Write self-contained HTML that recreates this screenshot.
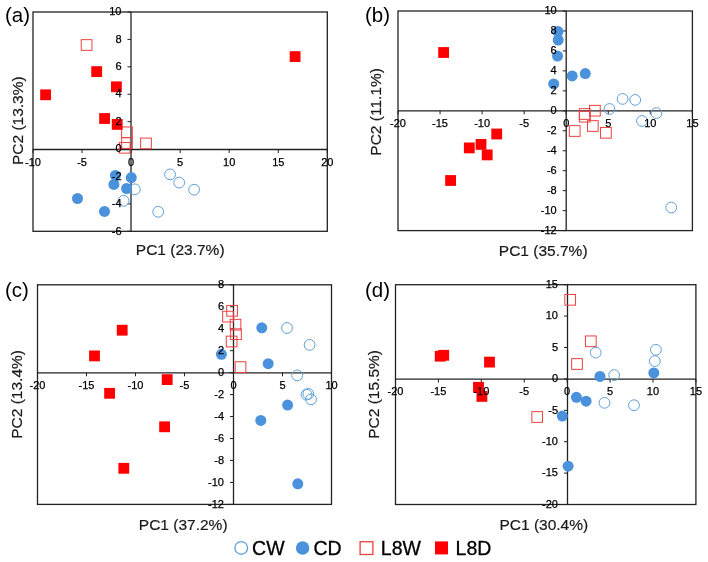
<!DOCTYPE html>
<html><head><meta charset="utf-8"><style>
html,body{margin:0;padding:0;background:#fff;}
svg{display:block;will-change:transform;}
text{font-family:"Liberation Sans", sans-serif;fill:#000;}
.t{font-size:11px;stroke:#000;stroke-width:0.25px;}
.ti{font-size:15.5px;fill:#1a1a1a;stroke:#1a1a1a;stroke-width:0.2px;}
.lab{font-size:20.5px;}
.lg{font-size:19.5px;stroke:#000;stroke-width:0.3px;}
</style></head><body>
<svg width="708" height="562" viewBox="0 0 708 562">
<rect width="708" height="562" fill="#fff"/>
<rect x="33" y="12" width="294.3" height="219.3" fill="none" stroke="#222" stroke-width="1.3"/>
<line x1="33" y1="149.5" x2="327.3" y2="149.5" stroke="#222" stroke-width="1.3"/>
<line x1="131" y1="12" x2="131" y2="231.3" stroke="#222" stroke-width="1.3"/>
<line x1="33" y1="149.5" x2="33" y2="153" stroke="#222" stroke-width="1"/>
<line x1="82.05" y1="149.5" x2="82.05" y2="153" stroke="#222" stroke-width="1"/>
<line x1="131.1" y1="149.5" x2="131.1" y2="153" stroke="#222" stroke-width="1"/>
<line x1="180.15" y1="149.5" x2="180.15" y2="153" stroke="#222" stroke-width="1"/>
<line x1="229.2" y1="149.5" x2="229.2" y2="153" stroke="#222" stroke-width="1"/>
<line x1="278.25" y1="149.5" x2="278.25" y2="153" stroke="#222" stroke-width="1"/>
<line x1="327.3" y1="149.5" x2="327.3" y2="153" stroke="#222" stroke-width="1"/>
<line x1="127.5" y1="231.3" x2="131" y2="231.3" stroke="#222" stroke-width="1"/>
<line x1="127.5" y1="203.89" x2="131" y2="203.89" stroke="#222" stroke-width="1"/>
<line x1="127.5" y1="176.48" x2="131" y2="176.48" stroke="#222" stroke-width="1"/>
<line x1="127.5" y1="149.06" x2="131" y2="149.06" stroke="#222" stroke-width="1"/>
<line x1="127.5" y1="121.65" x2="131" y2="121.65" stroke="#222" stroke-width="1"/>
<line x1="127.5" y1="94.24" x2="131" y2="94.24" stroke="#222" stroke-width="1"/>
<line x1="127.5" y1="66.83" x2="131" y2="66.83" stroke="#222" stroke-width="1"/>
<line x1="127.5" y1="39.41" x2="131" y2="39.41" stroke="#222" stroke-width="1"/>
<line x1="127.5" y1="12" x2="131" y2="12" stroke="#222" stroke-width="1"/>
<circle cx="170.1" cy="174.4" r="5.4" fill="none" stroke="#5fa0dc" stroke-width="1"/>
<circle cx="179.2" cy="182.6" r="5.4" fill="none" stroke="#5fa0dc" stroke-width="1"/>
<circle cx="194.1" cy="189.7" r="5.4" fill="none" stroke="#5fa0dc" stroke-width="1"/>
<circle cx="134.8" cy="189.3" r="5.4" fill="none" stroke="#5fa0dc" stroke-width="1"/>
<circle cx="123.6" cy="200.8" r="5.4" fill="none" stroke="#5fa0dc" stroke-width="1"/>
<circle cx="158.2" cy="211.8" r="5.4" fill="none" stroke="#5fa0dc" stroke-width="1"/>
<circle cx="115.4" cy="175.5" r="5.5" fill="#4b92dc"/>
<circle cx="131.3" cy="177.6" r="5.5" fill="#4b92dc"/>
<circle cx="113.9" cy="184.4" r="5.5" fill="#4b92dc"/>
<circle cx="126.6" cy="188.5" r="5.5" fill="#4b92dc"/>
<circle cx="77.5" cy="198.5" r="5.5" fill="#4b92dc"/>
<circle cx="104.5" cy="211.4" r="5.5" fill="#4b92dc"/>
<rect x="81.25" y="39.65" width="10.7" height="10.7" fill="none" stroke="#ee4040" stroke-width="1"/>
<rect x="121.65" y="126.95" width="10.7" height="10.7" fill="none" stroke="#ee4040" stroke-width="1"/>
<rect x="121.65" y="137.65" width="10.7" height="10.7" fill="none" stroke="#ee4040" stroke-width="1"/>
<rect x="119.35" y="142.45" width="10.7" height="10.7" fill="none" stroke="#ee4040" stroke-width="1"/>
<rect x="140.65" y="138.05" width="10.7" height="10.7" fill="none" stroke="#ee4040" stroke-width="1"/>
<rect x="91.3" y="66.2" width="10.8" height="10.8" fill="#ff0000"/>
<rect x="111" y="81.4" width="10.8" height="10.8" fill="#ff0000"/>
<rect x="40.2" y="89.4" width="10.8" height="10.8" fill="#ff0000"/>
<rect x="99.2" y="113.1" width="10.8" height="10.8" fill="#ff0000"/>
<rect x="111.8" y="119" width="10.8" height="10.8" fill="#ff0000"/>
<rect x="289.7" y="51.2" width="10.8" height="10.8" fill="#ff0000"/>
<text x="33" y="165.8" text-anchor="middle" class="t">-10</text>
<text x="82.05" y="165.8" text-anchor="middle" class="t">-5</text>
<text x="131.1" y="165.8" text-anchor="middle" class="t">0</text>
<text x="180.15" y="165.8" text-anchor="middle" class="t">5</text>
<text x="229.2" y="165.8" text-anchor="middle" class="t">10</text>
<text x="278.25" y="165.8" text-anchor="middle" class="t">15</text>
<text x="327.3" y="165.8" text-anchor="middle" class="t">20</text>
<text x="121.5" y="234.5" text-anchor="end" class="t">-6</text>
<text x="121.5" y="207.09" text-anchor="end" class="t">-4</text>
<text x="121.5" y="179.68" text-anchor="end" class="t">-2</text>
<text x="121.5" y="152.26" text-anchor="end" class="t">0</text>
<text x="121.5" y="124.85" text-anchor="end" class="t">2</text>
<text x="121.5" y="97.44" text-anchor="end" class="t">4</text>
<text x="121.5" y="70.03" text-anchor="end" class="t">6</text>
<text x="121.5" y="42.61" text-anchor="end" class="t">8</text>
<text x="121.5" y="15.2" text-anchor="end" class="t">10</text>
<text x="5" y="21.8" class="lab">(a)</text>
<text x="180.2" y="254.9" text-anchor="middle" class="ti">PC1 (23.7%)</text>
<text transform="translate(22.8,120.7) rotate(-90)" text-anchor="middle" class="ti">PC2 (13.3%)</text>
<rect x="398" y="11" width="294.4" height="219.6" fill="none" stroke="#222" stroke-width="1.3"/>
<line x1="398" y1="110.8" x2="692.4" y2="110.8" stroke="#222" stroke-width="1.3"/>
<line x1="566.2" y1="11" x2="566.2" y2="230.6" stroke="#222" stroke-width="1.3"/>
<line x1="398" y1="110.8" x2="398" y2="114.3" stroke="#222" stroke-width="1"/>
<line x1="440.06" y1="110.8" x2="440.06" y2="114.3" stroke="#222" stroke-width="1"/>
<line x1="482.11" y1="110.8" x2="482.11" y2="114.3" stroke="#222" stroke-width="1"/>
<line x1="524.17" y1="110.8" x2="524.17" y2="114.3" stroke="#222" stroke-width="1"/>
<line x1="566.23" y1="110.8" x2="566.23" y2="114.3" stroke="#222" stroke-width="1"/>
<line x1="608.29" y1="110.8" x2="608.29" y2="114.3" stroke="#222" stroke-width="1"/>
<line x1="650.34" y1="110.8" x2="650.34" y2="114.3" stroke="#222" stroke-width="1"/>
<line x1="692.4" y1="110.8" x2="692.4" y2="114.3" stroke="#222" stroke-width="1"/>
<line x1="562.7" y1="230.6" x2="566.2" y2="230.6" stroke="#222" stroke-width="1"/>
<line x1="562.7" y1="210.64" x2="566.2" y2="210.64" stroke="#222" stroke-width="1"/>
<line x1="562.7" y1="190.67" x2="566.2" y2="190.67" stroke="#222" stroke-width="1"/>
<line x1="562.7" y1="170.71" x2="566.2" y2="170.71" stroke="#222" stroke-width="1"/>
<line x1="562.7" y1="150.75" x2="566.2" y2="150.75" stroke="#222" stroke-width="1"/>
<line x1="562.7" y1="130.78" x2="566.2" y2="130.78" stroke="#222" stroke-width="1"/>
<line x1="562.7" y1="110.82" x2="566.2" y2="110.82" stroke="#222" stroke-width="1"/>
<line x1="562.7" y1="90.85" x2="566.2" y2="90.85" stroke="#222" stroke-width="1"/>
<line x1="562.7" y1="70.89" x2="566.2" y2="70.89" stroke="#222" stroke-width="1"/>
<line x1="562.7" y1="50.93" x2="566.2" y2="50.93" stroke="#222" stroke-width="1"/>
<line x1="562.7" y1="30.96" x2="566.2" y2="30.96" stroke="#222" stroke-width="1"/>
<line x1="562.7" y1="11" x2="566.2" y2="11" stroke="#222" stroke-width="1"/>
<circle cx="609.4" cy="109" r="5.4" fill="none" stroke="#5fa0dc" stroke-width="1"/>
<circle cx="622.6" cy="98.9" r="5.4" fill="none" stroke="#5fa0dc" stroke-width="1"/>
<circle cx="635.2" cy="99.9" r="5.4" fill="none" stroke="#5fa0dc" stroke-width="1"/>
<circle cx="656.4" cy="113.1" r="5.4" fill="none" stroke="#5fa0dc" stroke-width="1"/>
<circle cx="642" cy="121" r="5.4" fill="none" stroke="#5fa0dc" stroke-width="1"/>
<circle cx="671.2" cy="207.5" r="5.4" fill="none" stroke="#5fa0dc" stroke-width="1"/>
<circle cx="557.9" cy="31.5" r="5.5" fill="#4b92dc"/>
<circle cx="558.2" cy="40.1" r="5.5" fill="#4b92dc"/>
<circle cx="557.5" cy="56.1" r="5.5" fill="#4b92dc"/>
<circle cx="572.2" cy="75.9" r="5.5" fill="#4b92dc"/>
<circle cx="585.3" cy="73.6" r="5.5" fill="#4b92dc"/>
<circle cx="553.7" cy="83.9" r="5.5" fill="#4b92dc"/>
<rect x="589.55" y="105.35" width="10.7" height="10.7" fill="none" stroke="#ee4040" stroke-width="1"/>
<rect x="579.35" y="108.65" width="10.7" height="10.7" fill="none" stroke="#ee4040" stroke-width="1"/>
<rect x="579.35" y="111.35" width="10.7" height="10.7" fill="none" stroke="#ee4040" stroke-width="1"/>
<rect x="587.45" y="120.65" width="10.7" height="10.7" fill="none" stroke="#ee4040" stroke-width="1"/>
<rect x="569.35" y="125.65" width="10.7" height="10.7" fill="none" stroke="#ee4040" stroke-width="1"/>
<rect x="600.55" y="127.45" width="10.7" height="10.7" fill="none" stroke="#ee4040" stroke-width="1"/>
<rect x="438.2" y="47.1" width="10.8" height="10.8" fill="#ff0000"/>
<rect x="491.3" y="128.6" width="10.8" height="10.8" fill="#ff0000"/>
<rect x="475.6" y="139" width="10.8" height="10.8" fill="#ff0000"/>
<rect x="463.9" y="142.5" width="10.8" height="10.8" fill="#ff0000"/>
<rect x="481.8" y="149.5" width="10.8" height="10.8" fill="#ff0000"/>
<rect x="445.2" y="175.1" width="10.8" height="10.8" fill="#ff0000"/>
<text x="398" y="127.1" text-anchor="middle" class="t">-20</text>
<text x="440.06" y="127.1" text-anchor="middle" class="t">-15</text>
<text x="482.11" y="127.1" text-anchor="middle" class="t">-10</text>
<text x="524.17" y="127.1" text-anchor="middle" class="t">-5</text>
<text x="566.23" y="127.1" text-anchor="middle" class="t">0</text>
<text x="608.29" y="127.1" text-anchor="middle" class="t">5</text>
<text x="650.34" y="127.1" text-anchor="middle" class="t">10</text>
<text x="692.4" y="127.1" text-anchor="middle" class="t">15</text>
<text x="556.7" y="233.8" text-anchor="end" class="t">-12</text>
<text x="556.7" y="213.84" text-anchor="end" class="t">-10</text>
<text x="556.7" y="193.87" text-anchor="end" class="t">-8</text>
<text x="556.7" y="173.91" text-anchor="end" class="t">-6</text>
<text x="556.7" y="153.95" text-anchor="end" class="t">-4</text>
<text x="556.7" y="133.98" text-anchor="end" class="t">-2</text>
<text x="556.7" y="114.02" text-anchor="end" class="t">0</text>
<text x="556.7" y="94.05" text-anchor="end" class="t">2</text>
<text x="556.7" y="74.09" text-anchor="end" class="t">4</text>
<text x="556.7" y="54.13" text-anchor="end" class="t">6</text>
<text x="556.7" y="34.16" text-anchor="end" class="t">8</text>
<text x="556.7" y="14.2" text-anchor="end" class="t">10</text>
<text x="365" y="21.8" class="lab">(b)</text>
<text x="543.2" y="255.6" text-anchor="middle" class="ti">PC1 (35.7%)</text>
<text transform="translate(380.6,111.9) rotate(-90)" text-anchor="middle" class="ti">PC2 (11.1%)</text>
<rect x="37.5" y="284.8" width="294" height="219.6" fill="none" stroke="#222" stroke-width="1.3"/>
<line x1="37.5" y1="372.8" x2="331.5" y2="372.8" stroke="#222" stroke-width="1.3"/>
<line x1="233.5" y1="284.8" x2="233.5" y2="504.4" stroke="#222" stroke-width="1.3"/>
<line x1="37.5" y1="372.8" x2="37.5" y2="376.3" stroke="#222" stroke-width="1"/>
<line x1="86.5" y1="372.8" x2="86.5" y2="376.3" stroke="#222" stroke-width="1"/>
<line x1="135.5" y1="372.8" x2="135.5" y2="376.3" stroke="#222" stroke-width="1"/>
<line x1="184.5" y1="372.8" x2="184.5" y2="376.3" stroke="#222" stroke-width="1"/>
<line x1="233.5" y1="372.8" x2="233.5" y2="376.3" stroke="#222" stroke-width="1"/>
<line x1="282.5" y1="372.8" x2="282.5" y2="376.3" stroke="#222" stroke-width="1"/>
<line x1="331.5" y1="372.8" x2="331.5" y2="376.3" stroke="#222" stroke-width="1"/>
<line x1="230" y1="504.4" x2="233.5" y2="504.4" stroke="#222" stroke-width="1"/>
<line x1="230" y1="482.44" x2="233.5" y2="482.44" stroke="#222" stroke-width="1"/>
<line x1="230" y1="460.48" x2="233.5" y2="460.48" stroke="#222" stroke-width="1"/>
<line x1="230" y1="438.52" x2="233.5" y2="438.52" stroke="#222" stroke-width="1"/>
<line x1="230" y1="416.56" x2="233.5" y2="416.56" stroke="#222" stroke-width="1"/>
<line x1="230" y1="394.6" x2="233.5" y2="394.6" stroke="#222" stroke-width="1"/>
<line x1="230" y1="372.64" x2="233.5" y2="372.64" stroke="#222" stroke-width="1"/>
<line x1="230" y1="350.68" x2="233.5" y2="350.68" stroke="#222" stroke-width="1"/>
<line x1="230" y1="328.72" x2="233.5" y2="328.72" stroke="#222" stroke-width="1"/>
<line x1="230" y1="306.76" x2="233.5" y2="306.76" stroke="#222" stroke-width="1"/>
<line x1="230" y1="284.8" x2="233.5" y2="284.8" stroke="#222" stroke-width="1"/>
<circle cx="287" cy="328" r="5.4" fill="none" stroke="#5fa0dc" stroke-width="1"/>
<circle cx="309.6" cy="344.9" r="5.4" fill="none" stroke="#5fa0dc" stroke-width="1"/>
<circle cx="297.2" cy="375.4" r="5.4" fill="none" stroke="#5fa0dc" stroke-width="1"/>
<circle cx="306.5" cy="394.6" r="5.4" fill="none" stroke="#5fa0dc" stroke-width="1"/>
<circle cx="308.3" cy="393.9" r="5.4" fill="none" stroke="#5fa0dc" stroke-width="1"/>
<circle cx="311" cy="399.3" r="5.4" fill="none" stroke="#5fa0dc" stroke-width="1"/>
<circle cx="221.4" cy="354.3" r="5.5" fill="#4b92dc"/>
<circle cx="261.8" cy="327.8" r="5.5" fill="#4b92dc"/>
<circle cx="268.2" cy="363.7" r="5.5" fill="#4b92dc"/>
<circle cx="287.6" cy="405.1" r="5.5" fill="#4b92dc"/>
<circle cx="260.8" cy="420.4" r="5.5" fill="#4b92dc"/>
<circle cx="297.8" cy="483.8" r="5.5" fill="#4b92dc"/>
<rect x="226.75" y="305.45" width="10.7" height="10.7" fill="none" stroke="#ee4040" stroke-width="1"/>
<rect x="222.65" y="311.25" width="10.7" height="10.7" fill="none" stroke="#ee4040" stroke-width="1"/>
<rect x="230.15" y="319.35" width="10.7" height="10.7" fill="none" stroke="#ee4040" stroke-width="1"/>
<rect x="230.65" y="328.85" width="10.7" height="10.7" fill="none" stroke="#ee4040" stroke-width="1"/>
<rect x="226.25" y="336.15" width="10.7" height="10.7" fill="none" stroke="#ee4040" stroke-width="1"/>
<rect x="235.15" y="361.75" width="10.7" height="10.7" fill="none" stroke="#ee4040" stroke-width="1"/>
<rect x="116.8" y="324.8" width="10.8" height="10.8" fill="#ff0000"/>
<rect x="89.1" y="350.5" width="10.8" height="10.8" fill="#ff0000"/>
<rect x="161.8" y="374.2" width="10.8" height="10.8" fill="#ff0000"/>
<rect x="104.2" y="387.9" width="10.8" height="10.8" fill="#ff0000"/>
<rect x="159.2" y="421.4" width="10.8" height="10.8" fill="#ff0000"/>
<rect x="118.4" y="462.9" width="10.8" height="10.8" fill="#ff0000"/>
<text x="37.5" y="389.1" text-anchor="middle" class="t">-20</text>
<text x="86.5" y="389.1" text-anchor="middle" class="t">-15</text>
<text x="135.5" y="389.1" text-anchor="middle" class="t">-10</text>
<text x="184.5" y="389.1" text-anchor="middle" class="t">-5</text>
<text x="233.5" y="389.1" text-anchor="middle" class="t">0</text>
<text x="282.5" y="389.1" text-anchor="middle" class="t">5</text>
<text x="331.5" y="389.1" text-anchor="middle" class="t">10</text>
<text x="224" y="507.6" text-anchor="end" class="t">-12</text>
<text x="224" y="485.64" text-anchor="end" class="t">-10</text>
<text x="224" y="463.68" text-anchor="end" class="t">-8</text>
<text x="224" y="441.72" text-anchor="end" class="t">-6</text>
<text x="224" y="419.76" text-anchor="end" class="t">-4</text>
<text x="224" y="397.8" text-anchor="end" class="t">-2</text>
<text x="224" y="375.84" text-anchor="end" class="t">0</text>
<text x="224" y="353.88" text-anchor="end" class="t">2</text>
<text x="224" y="331.92" text-anchor="end" class="t">4</text>
<text x="224" y="309.96" text-anchor="end" class="t">6</text>
<text x="224" y="288" text-anchor="end" class="t">8</text>
<text x="5" y="297" class="lab">(c)</text>
<text x="183.2" y="529.7" text-anchor="middle" class="ti">PC1 (37.2%)</text>
<text transform="translate(22.4,394.4) rotate(-90)" text-anchor="middle" class="ti">PC2 (13.4%)</text>
<rect x="395.5" y="284.7" width="300.4" height="219.8" fill="none" stroke="#222" stroke-width="1.3"/>
<line x1="395.5" y1="379.1" x2="695.9" y2="379.1" stroke="#222" stroke-width="1.3"/>
<line x1="567.5" y1="284.7" x2="567.5" y2="504.5" stroke="#222" stroke-width="1.3"/>
<line x1="395.5" y1="379.1" x2="395.5" y2="382.6" stroke="#222" stroke-width="1"/>
<line x1="438.41" y1="379.1" x2="438.41" y2="382.6" stroke="#222" stroke-width="1"/>
<line x1="481.33" y1="379.1" x2="481.33" y2="382.6" stroke="#222" stroke-width="1"/>
<line x1="524.24" y1="379.1" x2="524.24" y2="382.6" stroke="#222" stroke-width="1"/>
<line x1="567.16" y1="379.1" x2="567.16" y2="382.6" stroke="#222" stroke-width="1"/>
<line x1="610.07" y1="379.1" x2="610.07" y2="382.6" stroke="#222" stroke-width="1"/>
<line x1="652.99" y1="379.1" x2="652.99" y2="382.6" stroke="#222" stroke-width="1"/>
<line x1="695.9" y1="379.1" x2="695.9" y2="382.6" stroke="#222" stroke-width="1"/>
<line x1="564" y1="504.5" x2="567.5" y2="504.5" stroke="#222" stroke-width="1"/>
<line x1="564" y1="473.1" x2="567.5" y2="473.1" stroke="#222" stroke-width="1"/>
<line x1="564" y1="441.7" x2="567.5" y2="441.7" stroke="#222" stroke-width="1"/>
<line x1="564" y1="410.3" x2="567.5" y2="410.3" stroke="#222" stroke-width="1"/>
<line x1="564" y1="378.9" x2="567.5" y2="378.9" stroke="#222" stroke-width="1"/>
<line x1="564" y1="347.5" x2="567.5" y2="347.5" stroke="#222" stroke-width="1"/>
<line x1="564" y1="316.1" x2="567.5" y2="316.1" stroke="#222" stroke-width="1"/>
<line x1="564" y1="284.7" x2="567.5" y2="284.7" stroke="#222" stroke-width="1"/>
<circle cx="595.7" cy="352.6" r="5.4" fill="none" stroke="#5fa0dc" stroke-width="1"/>
<circle cx="614.2" cy="375.1" r="5.4" fill="none" stroke="#5fa0dc" stroke-width="1"/>
<circle cx="604.5" cy="402.8" r="5.4" fill="none" stroke="#5fa0dc" stroke-width="1"/>
<circle cx="655.9" cy="349.8" r="5.4" fill="none" stroke="#5fa0dc" stroke-width="1"/>
<circle cx="654.8" cy="361.1" r="5.4" fill="none" stroke="#5fa0dc" stroke-width="1"/>
<circle cx="634" cy="405.2" r="5.4" fill="none" stroke="#5fa0dc" stroke-width="1"/>
<circle cx="600" cy="376.4" r="5.5" fill="#4b92dc"/>
<circle cx="576.4" cy="397.3" r="5.5" fill="#4b92dc"/>
<circle cx="586.1" cy="401.2" r="5.5" fill="#4b92dc"/>
<circle cx="562.3" cy="416.1" r="5.5" fill="#4b92dc"/>
<circle cx="568.1" cy="466.2" r="5.5" fill="#4b92dc"/>
<circle cx="653.8" cy="372.9" r="5.5" fill="#4b92dc"/>
<rect x="564.85" y="294.45" width="10.7" height="10.7" fill="none" stroke="#ee4040" stroke-width="1"/>
<rect x="585.45" y="335.95" width="10.7" height="10.7" fill="none" stroke="#ee4040" stroke-width="1"/>
<rect x="571.65" y="358.65" width="10.7" height="10.7" fill="none" stroke="#ee4040" stroke-width="1"/>
<rect x="531.85" y="411.65" width="10.7" height="10.7" fill="none" stroke="#ee4040" stroke-width="1"/>
<rect x="434.8" y="350.8" width="10.8" height="10.8" fill="#ff0000"/>
<rect x="438.3" y="349.9" width="10.8" height="10.8" fill="#ff0000"/>
<rect x="484.1" y="356.7" width="10.8" height="10.8" fill="#ff0000"/>
<rect x="473.1" y="381.9" width="10.8" height="10.8" fill="#ff0000"/>
<rect x="476.5" y="391" width="10.8" height="10.8" fill="#ff0000"/>
<text x="395.5" y="395.4" text-anchor="middle" class="t">-20</text>
<text x="438.41" y="395.4" text-anchor="middle" class="t">-15</text>
<text x="481.33" y="395.4" text-anchor="middle" class="t">-10</text>
<text x="524.24" y="395.4" text-anchor="middle" class="t">-5</text>
<text x="567.16" y="395.4" text-anchor="middle" class="t">0</text>
<text x="610.07" y="395.4" text-anchor="middle" class="t">5</text>
<text x="652.99" y="395.4" text-anchor="middle" class="t">10</text>
<text x="695.9" y="395.4" text-anchor="middle" class="t">15</text>
<text x="558" y="507.7" text-anchor="end" class="t">-20</text>
<text x="558" y="476.3" text-anchor="end" class="t">-15</text>
<text x="558" y="444.9" text-anchor="end" class="t">-10</text>
<text x="558" y="413.5" text-anchor="end" class="t">-5</text>
<text x="558" y="382.1" text-anchor="end" class="t">0</text>
<text x="558" y="350.7" text-anchor="end" class="t">5</text>
<text x="558" y="319.3" text-anchor="end" class="t">10</text>
<text x="558" y="287.9" text-anchor="end" class="t">15</text>
<text x="365" y="297" class="lab">(d)</text>
<text x="543.8" y="529.7" text-anchor="middle" class="ti">PC1 (30.4%)</text>
<text transform="translate(378.6,394.4) rotate(-90)" text-anchor="middle" class="ti">PC2 (15.5%)</text>
<circle cx="241.2" cy="547.9" r="6.35" fill="none" stroke="#5fa0dc" stroke-width="1.3"/>
<text x="252.1" y="554.8" class="lg">CW</text>
<circle cx="302.6" cy="548" r="6.75" fill="#4b92dc"/>
<text x="313.5" y="554.8" class="lg">CD</text>
<rect x="360.1" y="541.7" width="12.8" height="12.8" fill="none" stroke="#ee4040" stroke-width="1.3"/>
<text x="380.8" y="554.8" class="lg">L8W</text>
<rect x="435" y="541.4" width="13" height="13" fill="#ff0000"/>
<text x="455.6" y="554.8" class="lg">L8D</text>
</svg>
</body></html>
